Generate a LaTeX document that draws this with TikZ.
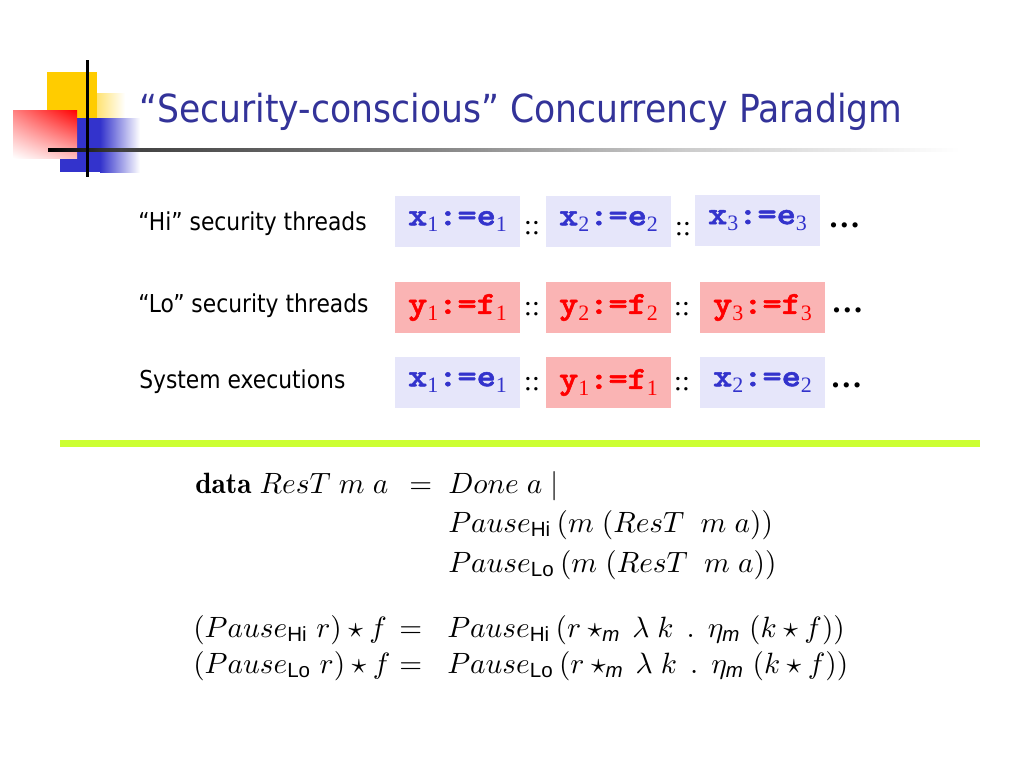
\RequirePackage{fix-cm}
\documentclass[tikz,border=0pt]{standalone}
\usepackage{amsmath}
\usepackage{fontspec}
\usetikzlibrary{shadings}
\newfontfamily\tah{DejaVu Sans}
\newfontfamily\serf{Liberation Serif}
\newfontfamily\lsf{Liberation Sans}
\newfontfamily\codef{lmmonolt10-bold.otf}[FakeBold=1.6]
\definecolor{titleblue}{RGB}{51,51,153}
\definecolor{codeblue}{RGB}{51,51,204}
\definecolor{boxblue}{RGB}{230,230,250}
\definecolor{boxred}{RGB}{250,180,180}
\definecolor{logoyellow}{RGB}{255,204,0}
\definecolor{logoblue}{RGB}{51,51,204}
\definecolor{linegreen}{RGB}{204,255,51}
\pgfdeclarehorizontalshading{hline}{100bp}{color(0bp)=(black); color(25bp)=(black); color(29bp)=(black!75); color(45bp)=(black!50); color(60bp)=(black!20); color(75bp)=(white); color(100bp)=(white)}
\newcommand\sbx[1]{\raisebox{-5pt}{\serf\fontsize{16.5}{16.5}\selectfont #1}}
\newcommand\tw[1]{\scalebox{1.143}[1]{\codef\bfseries #1}}
\newcommand\cd[4]{\tw{#1}\sbx{#2}\tw{:=#3}\sbx{#4}}
\newcommand\Hs{\text{\lsf Hi}}
\newcommand\Ls{\text{\lsf Lo}}
\newcommand\ms{\text{\lsf\itshape m}}
\newcommand\mx[1]{\scalebox{2.2}{$#1$}}
\tikzset{
  codebox/.style={minimum width=93.75pt, minimum height=38.25pt, inner sep=0pt,
    font=\codef\fontsize{24}{24}\selectfont},
  hibox/.style={codebox, fill=boxblue, text=codeblue},
  lobox/.style={codebox, fill=boxred, text=red},
  sep/.style={anchor=base, inner sep=0pt, font=\serf\fontsize{21}{21}\selectfont},
  more/.style={anchor=base west, inner sep=0pt, font=\serf\bfseries\fontsize{24}{24}\selectfont},
  lab/.style={anchor=base west, inner sep=0pt, font=\tah\fontsize{18.5}{22}\selectfont},
  mth/.style={anchor=base west, inner sep=0pt, font=\fontsize{10}{12}\selectfont},
}
\begin{document}
\begin{tikzpicture}[x=0.75pt,y=-0.75pt]
\useasboundingbox (0,0) rectangle (1024,768);
% logo
\fill[logoyellow] (47,72) rectangle (97,120);
\shade[left color=logoyellow!55, right color=white] (97,93) rectangle (125,118);
\fill[logoblue] (60,118) rectangle (100,172);
\shade[left color=logoblue, right color=white] (100,118) rectangle (140,172);
\shade[upper right=red, upper left=red!50, lower right=red!25, lower left=white] (13,110) rectangle (77,158);
\shade[shading=hline] (48,148.5) rectangle (960,151.5);
\fill[black] (85.5,60) rectangle (88.5,177);
% title
\node[anchor=base west, inner sep=0pt, text=titleblue, font=\tah\fontsize{29}{33}\selectfont] (title) at (139,122)
  {\scalebox{0.895}[1]{“Security-conscious” Concurrency Paradigm}};
% labels
\node[lab] (lhi) at (138,230) {\scalebox{0.885}[1]{“Hi” security threads}};
\node[lab] (llo) at (138,312) {\scalebox{0.885}[1]{“Lo” security threads}};
\node[lab] (lsys) at (139,388) {\scalebox{0.885}[1]{System executions}};
% row 1
\node[hibox] (a1) at (457.5,221.5) {\cd{x}{1}{e}{1}};
\node[hibox] (a2) at (608.5,221.5) {\cd{x}{2}{e}{2}};
\node[hibox] (a3) at (757.5,220.5) {\cd{x}{3}{e}{3}};
\node[sep] (s11) at (532,234) {::};
\node[sep] (s12) at (683,235) {::};
\node[more] (m1) at (828,227) {…};
% row 2
\node[lobox] (b1) at (457.5,307.5) {\cd{y}{1}{f}{1}};
\node[lobox] (b2) at (608.5,307.5) {\cd{y}{2}{f}{2}};
\node[lobox] (b3) at (762.5,307.5) {\cd{y}{3}{f}{3}};
\node[sep] (s21) at (532,315) {::};
\node[sep] (s22) at (682,315) {::};
\node[more] (m2) at (831,312) {…};
% row 3
\node[hibox] (c1) at (457.5,382.5) {\cd{x}{1}{e}{1}};
\node[lobox] (c2) at (608.5,382.5) {\cd{y}{1}{f}{1}};
\node[hibox] (c3) at (762.5,382.5) {\cd{x}{2}{e}{2}};
\node[sep] (s31) at (532,390) {::};
\node[sep] (s32) at (682,390) {::};
\node[more] (m3) at (830,387) {…};
% separator
\fill[linegreen] (60,440) rectangle (980,447);
% math
\node[mth] (e1l) at (195,493) {\mx{\mathbf{data}\; ResT\; m\; a}};
\node[mth] (e1q) at (409,493) {\mx{=}};
\node[mth] (e1r) at (448,493) {\mx{Done\; a\;|}};
\node[mth] (e2r) at (448,532) {\mx{Pause_{\Hs}\,(m\;(ResT\;\;m\;a))}};
\node[mth] (e3r) at (448,572) {\mx{Pause_{\Ls}\,(m\;(ResT\;\;m\;a))}};
\node[mth] (e4l) at (193,637) {\mx{(Pause_{\Hs}\;r)\star f}};
\node[mth] (e4q) at (399,637) {\mx{=}};
\node[mth] (e4r) at (447,637) {\mx{Pause_{\Hs}\,(r\star_{\ms}\,\lambda\;k\;\,.\;\,\eta_{\ms}\;(k\star f))}};
\node[mth] (e5l) at (193,673) {\mx{(Pause_{\Ls}\;r)\star f}};
\node[mth] (e5q) at (399,673) {\mx{=}};
\node[mth] (e5r) at (447,673) {\mx{Pause_{\Ls}\,(r\star_{\ms}\,\lambda\;k\;\,.\;\,\eta_{\ms}\;(k\star f))}};
\end{tikzpicture}
\end{document}
